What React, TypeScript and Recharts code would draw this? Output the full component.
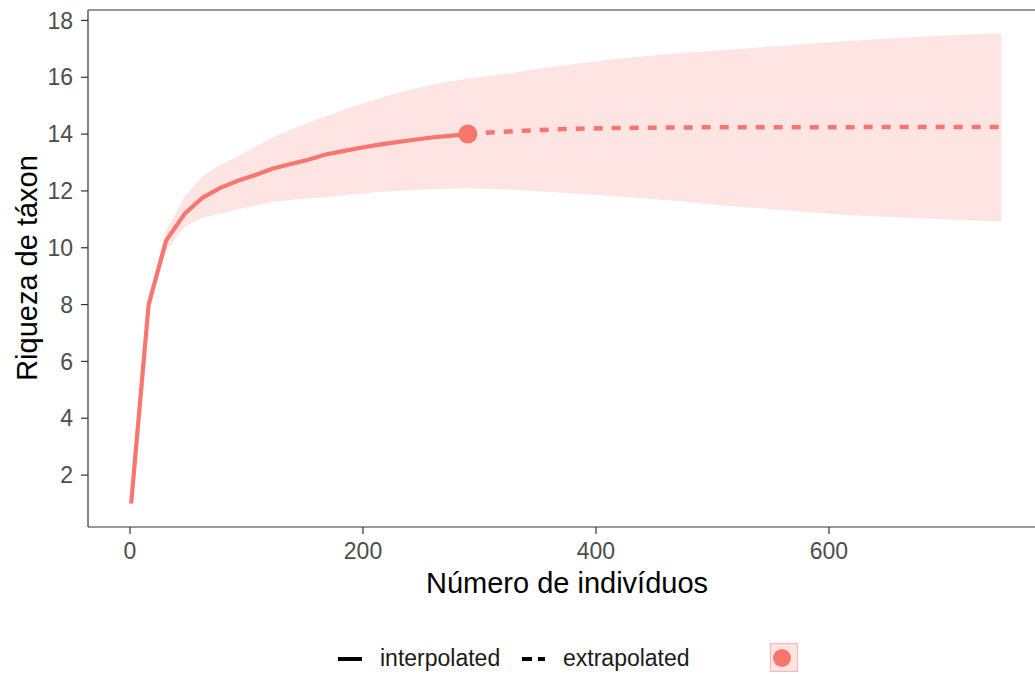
import React from "react";
import {
  ComposedChart,
  Area,
  Line,
  Scatter,
  XAxis,
  YAxis,
  ReferenceLine,
} from "recharts";

// sample sizes (knots) and estimated richness
const interpX = [1, 16, 31, 47, 62, 77, 92, 107, 122, 138, 153, 168, 183, 198, 214, 229, 244, 259, 274, 290];
const interpY = [1, 8.0, 10.25, 11.2, 11.75, 12.1, 12.35, 12.55, 12.78, 12.95, 13.1, 13.28, 13.4, 13.52, 13.63, 13.72, 13.8, 13.88, 13.94, 14.0];
const interpLow = [1, 7.9, 9.9, 10.75, 11.05, 11.2, 11.35, 11.48, 11.6, 11.68, 11.74, 11.78, 11.84, 11.9, 11.96, 12.0, 12.03, 12.06, 12.08, 12.09];
const interpHigh = [1, 8.1, 10.6, 11.8, 12.5, 12.9, 13.2, 13.55, 13.87, 14.15, 14.4, 14.63, 14.85, 15.05, 15.25, 15.45, 15.6, 15.73, 15.85, 15.95];

const extrapX = [290, 314, 338, 362, 386, 410, 434, 459, 483, 507, 531, 555, 579, 603, 627, 652, 676, 700, 724, 748];
const extrapY = [14.0, 14.07, 14.12, 14.16, 14.19, 14.21, 14.22, 14.23, 14.235, 14.24, 14.24, 14.24, 14.245, 14.245, 14.245, 14.25, 14.25, 14.25, 14.25, 14.25];
const extrapLow = [12.09, 12.07, 12.02, 11.96, 11.9, 11.83, 11.76, 11.68, 11.6, 11.5, 11.42, 11.35, 11.27, 11.19, 11.13, 11.08, 11.04, 11.0, 10.96, 10.92];
const extrapHigh = [15.95, 16.07, 16.22, 16.36, 16.49, 16.61, 16.71, 16.8, 16.88, 16.95, 17.02, 17.09, 17.17, 17.24, 17.3, 17.36, 17.42, 17.47, 17.51, 17.54];

const observed = [{ x: 290, obs: 14.0 }];

const xTicks = [0, 200, 400, 600];
const yTicks = [2, 4, 6, 8, 10, 12, 14, 16, 18];
const xDomain = [-36.05, 786.3];
const yDomain = [0.173, 18.367];

const RED = "#F8766D";
const FONT = "'Liberation Sans', Arial, sans-serif";

const rows: any[] = [];
interpX.forEach((x, i) => {
  const r: any = { x, interp: interpY[i], band: [interpLow[i], interpHigh[i]] };
  if (x === extrapX[0]) r.extrap = extrapY[0];
  rows.push(r);
});
extrapX.forEach((x, i) => {
  if (i === 0) return;
  rows.push({ x, extrap: extrapY[i], band: [extrapLow[i], extrapHigh[i]] });
});

const tickStyle = { fill: "#4D4D4D", fontSize: 23, fontFamily: FONT };

export default function App() {
  return (
    <div
      style={{
        position: "absolute",
        left: 0,
        top: 0,
        width: 1035,
        height: 674,
        overflow: "hidden",
        background: "#fff",
        fontFamily: FONT,
      }}
    >
      <ComposedChart
        width={1046}
        height={674}
        data={rows}
        margin={{ top: 10, right: 0, bottom: 0, left: 0 }}
      >
        <XAxis
          dataKey="x"
          type="number"
          domain={xDomain}
          ticks={xTicks}
          allowDataOverflow
          height={147}
          tickSize={7}
          tickMargin={9}
          tick={tickStyle}
          axisLine={{ stroke: "#333", strokeWidth: 1.2 }}
          tickLine={{ stroke: "#333", strokeWidth: 1.2 }}
        />
        <YAxis
          type="number"
          domain={yDomain}
          ticks={yTicks}
          allowDataOverflow
          width={88}
          tickSize={7}
          tickMargin={8}
          tick={tickStyle}
          axisLine={{ stroke: "#333", strokeWidth: 1.2 }}
          tickLine={{ stroke: "#333", strokeWidth: 1.2 }}
        />
        <ReferenceLine y={yDomain[1]} stroke="#333" strokeWidth={1.2} ifOverflow="visible" />
        <Area
          dataKey="band"
          type="linear"
          stroke="none"
          fill={RED}
          fillOpacity={0.2}
          isAnimationActive={false}
        />
        <Line
          dataKey="interp"
          type="linear"
          stroke={RED}
          strokeWidth={4.2}
          dot={false}
          activeDot={false}
          isAnimationActive={false}
        />
        <Line
          dataKey="extrap"
          type="linear"
          stroke={RED}
          strokeWidth={4.5}
          strokeDasharray="9 9"
          dot={false}
          activeDot={false}
          isAnimationActive={false}
        />
        <Scatter
          data={observed}
          dataKey="obs"
          fill={RED}
          isAnimationActive={false}
          shape={(p: any) => <circle cx={p.cx} cy={p.cy} r={9.5} fill={RED} />}
        />
      </ComposedChart>

      {/* axis titles */}
      <div
        style={{
          position: "absolute",
          left: 567,
          top: 567,
          transform: "translateX(-50%)",
          fontSize: 29,
          color: "#000",
          whiteSpace: "nowrap",
          lineHeight: "33px",
        }}
      >
        Número de indivíduos
      </div>
      <div
        style={{
          position: "absolute",
          left: 27,
          top: 268,
          transform: "translate(-50%, -50%) rotate(-90deg)",
          fontSize: 29,
          color: "#000",
          whiteSpace: "nowrap",
          lineHeight: "33px",
        }}
      >
        Riqueza de táxon
      </div>

      {/* legend */}
      <div style={{ position: "absolute", left: 338, top: 657, width: 24, height: 4, background: "#000" }} />
      <div style={{ position: "absolute", left: 380, top: 645, fontSize: 23, lineHeight: "27px", color: "#1A1A1A" }}>
        interpolated
      </div>
      <div style={{ position: "absolute", left: 522, top: 657, width: 10, height: 4, background: "#000" }} />
      <div style={{ position: "absolute", left: 538, top: 657, width: 7, height: 4, background: "#000" }} />
      <div style={{ position: "absolute", left: 563, top: 645, fontSize: 23, lineHeight: "27px", color: "#1A1A1A" }}>
        extrapolated
      </div>
      <svg style={{ position: "absolute", left: 769, top: 642 }} width={31} height={32}>
        <rect x={1.5} y={1.5} width={27} height={28} fill={RED} fillOpacity={0.2} stroke={RED} strokeOpacity={0.45} strokeWidth={1.2} />
        <circle cx={13} cy={16} r={9} fill={RED} />
      </svg>
    </div>
  );
}
